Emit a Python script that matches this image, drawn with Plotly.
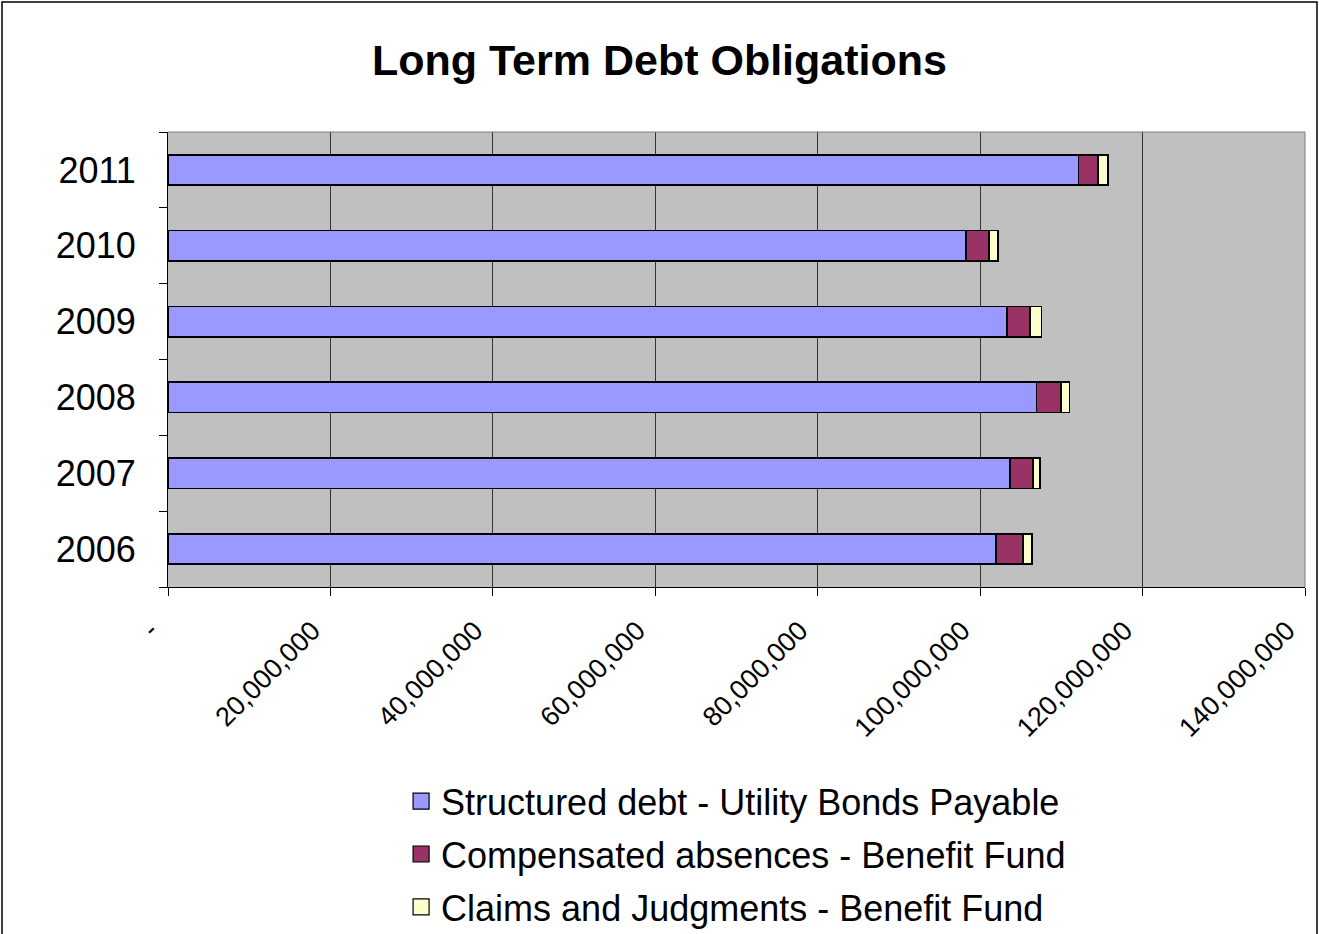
import plotly.graph_objects as go

years = ["2006", "2007", "2008", "2009", "2010", "2011"]
structured_debt = [102.0e6, 103.7e6, 106.95e6, 103.3e6, 98.3e6, 112.1e6]
compensated_absences = [3.25e6, 2.8e6, 3.0e6, 2.8e6, 2.8e6, 2.4e6]
claims_judgments = [1.1e6, 0.9e6, 1.05e6, 1.45e6, 1.1e6, 1.25e6]

series_names = [
    "Structured debt - Utility Bonds Payable",
    "Compensated absences - Benefit Fund",
    "Claims and Judgments - Benefit Fund",
]
series_colors = ["#9999FF", "#993366", "#FFFFCC"]

tick_vals = [0, 20e6, 40e6, 60e6, 80e6, 100e6, 120e6, 140e6]
tick_text = ["-", "20,000,000", "40,000,000", "60,000,000", "80,000,000",
             "100,000,000", "120,000,000", "140,000,000"]

fig = go.Figure()
for i, (name, vals, col) in enumerate(zip(series_names,
                           [structured_debt, compensated_absences, claims_judgments],
                           series_colors)):
    fig.add_trace(go.Bar(
        y=years, x=vals, name=name, orientation="h", showlegend=False,
        legendgroup="g%d" % i,
        marker=dict(color=col, line=dict(color="black", width=1.8)),
    ))
    # legend entry with a larger square symbol
    fig.add_trace(go.Scatter(
        x=[None], y=[None], mode="markers", name=name, legendgroup="g%d" % i,
        marker=dict(symbol="square", size=22, color=col,
                    line=dict(color="black", width=1.2)),
    ))

fig.update_layout(
    width=1319, height=934,
    barmode="stack", bargap=0.6,
    paper_bgcolor="white", plot_bgcolor="#C0C0C0",
    font=dict(family="Liberation Sans, Arial, sans-serif", color="black"),
    margin=dict(l=168, r=14, t=132, b=347, autoexpand=False),
    title=dict(text="<b>Long Term Debt Obligations</b>", x=0.5, xref="container",
               xanchor="center", y=0.936, yanchor="middle",
               font=dict(size=43, color="black")),
    xaxis=dict(range=[0, 140e6], tickvals=tick_vals, ticktext=tick_text,
               tickangle=-45, tickfont=dict(size=27),
               showgrid=True, gridcolor="#333333", gridwidth=1,
               ticks="outside", ticklen=8, tickcolor="black",
               ticklabelshift=-18, ticklabelstandoff=8,
               showline=True, linecolor="black", linewidth=1,
               zeroline=False, fixedrange=True),
    yaxis=dict(categoryorder="array", categoryarray=years,
               tickfont=dict(size=36), ticks="outside", ticklen=8,
               tickcolor="black", tickson="boundaries",
               showline=True, linecolor="black", linewidth=1,
               showgrid=False, ticklabelstandoff=24, fixedrange=True),
    legend=dict(x=0.205, xanchor="left", y=-0.405, yanchor="top",
                font=dict(size=36), traceorder="grouped",
                tracegroupgap=3, itemwidth=30, bgcolor="rgba(0,0,0,0)",
                itemclick=False, itemdoubleclick=False),
    showlegend=True,
    shapes=[
        dict(type="line", xref="paper", yref="paper",
             x0=1.0, x1=1.0, y0=0, y1=1, line=dict(color="#808080", width=1)),
        dict(type="line", xref="paper", yref="paper",
             x0=0, x1=1, y0=1, y1=1, line=dict(color="#808080", width=1)),
        dict(type="rect", xref="paper", yref="paper",
             x0=(2 - 168) / 1137, x1=(1317 - 168) / 1137,
             y0=(587 - 940) / 455, y1=(587 - 2) / 455,
             line=dict(color="black", width=1.5), fillcolor="rgba(0,0,0,0)",
             layer="below"),
    ],
)

fig.write_html(
    "out.html",
    config={"displayModeBar": False},
    post_script="document.body.style.margin='0';document.body.style.overflow='hidden';",
)
